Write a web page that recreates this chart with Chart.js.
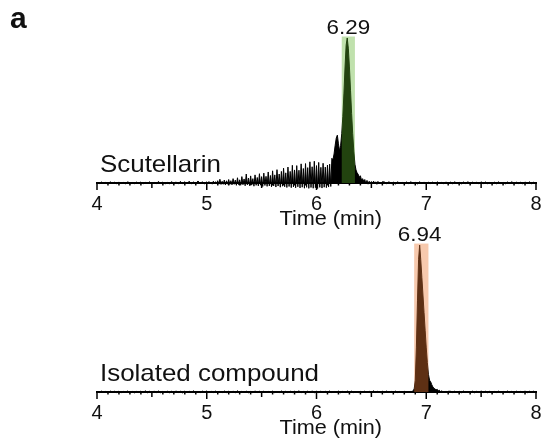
<!DOCTYPE html>
<html>
<head>
<meta charset="utf-8">
<script src="https://cdn.jsdelivr.net/npm/chart.js@4.4.0/dist/chart.umd.min.js"></script>
<style>
  html, body { margin: 0; padding: 0; background: #fff; }
  #wrap { position: relative; width: 545px; height: 440px; }
  .panel { position: absolute; left: 0; width: 545px; }
</style>
</head>
<body>
<div id="wrap">
  <div class="panel" style="top:0;height:230px"><canvas id="top"></canvas></div>
  <div class="panel" style="top:200px;height:240px"><canvas id="bottom"></canvas></div>
</div>
<script>
// retention time axis (min)
const timeMin = 4;
const timeMax = 8;
const timeTicks = [4, 5, 6, 7, 8];

// Scutellarin trace, relative intensity (peak = 100)
const scutEarly = [ // 4.00 - 4.98, every 0.02 min
  0.5,-0.4,0.7,-0.3,0.4,-0.6,0.8,-0.2,0.5,-0.5,
  0.6,-0.3,0.4,-0.7,0.9,-0.4,0.3,-0.5,0.6,-0.3,
  0.7,-0.6,0.4,-0.2,0.8,-0.5,0.5,-0.4,1.0,-0.3,
  0.6,-0.7,0.4,-0.5,0.9,-0.3,0.7,-0.6,1.1,-0.4,
  0.8,-0.5,1.2,-0.6,0.7,-0.8,1.4,-0.5,0.9,-0.7
];
const scutMain = [ // 5.00 - 6.60, every 0.01 min
  0.8,-0.6,1.0,-0.5,0.7,-0.8,1.2,-0.4,0.9,-0.7,
  1.6,-0.8,2.6,-1.0,1.2,-0.9,2.0,-1.4,1.5,-0.8,
  2.4,-1.0,1.6,-1.3,3.0,-0.9,2.0,-1.6,3.6,-1.1,
  2.2,-1.5,4.4,-1.2,2.8,-1.9,6.2,-1.3,3.4,-1.8,
  4.9,-1.4,3.0,-2.2,5.6,-1.6,3.8,-2.0,6.4,-1.5,
  4.4,-2.4,6.8,-1.7,4.6,-2.3,7.6,-2.0,5.2,-2.6,
  8.4,-2.0,5.6,-2.8,9.2,-2.1,6.2,-2.9,8.0,-2.2,
  10.2,-2.6,7.0,-3.1,11.0,-2.4,8.0,-3.2,12.2,-2.7,
  9.0,-3.3,12.0,-2.6,8.8,-3.4,13.2,-2.9,10.0,-3.6,
  13.4,-3.0,10.6,-3.7,14.6,-3.1,11.2,-3.6,15.0,-3.2,
  12.0,-3.8,14.2,-3.0,10.8,-3.5,13.6,-2.9,11.0,-3.2,
  12.4,-2.8,13.0,-2.4,17.0,16.0,20.0,26.0,31.0,33.0,
  27.0,22.0,26.0,34.0,46.0,62.0,80.0,95.0,100.0,93.0,
  80.0,64.0,48.0,34.0,22.0,13.0,9.0,7.0,6.0,4.0,
  5.0,2.0,3.0,1.2,2.4,-0.6,1.8,-0.8,1.2,-0.5,
  1.0,-0.7,1.3,-0.4,0.8,-0.9,1.1,-0.5,0.7,-0.6,
  0.9
];
const scutLate = [ // 6.62 - 8.00, every 0.02 min
  0.7,-0.5,0.9,-0.4,0.6,-0.7,0.8,-0.3,0.5,-0.6,
  0.7,-0.4,0.9,-0.5,0.4,-0.6,0.8,-0.3,0.6,-0.5,
  0.5,-0.4,0.7,-0.6,0.8,-0.3,0.4,-0.5,0.7,-0.4,
  0.6,-0.5,0.8,-0.3,0.5,-0.6,0.7,-0.4,0.9,-0.5,
  0.6,-0.3,0.5,-0.6,0.8,-0.4,0.7,-0.5,0.4,-0.3,
  0.6,-0.5,0.8,-0.4,0.5,-0.6,0.7,-0.3,0.9,-0.5,
  0.6,-0.4,0.5,-0.6,0.7,-0.3,0.8,-0.5,0.6,-0.4
];

// Isolated compound trace, relative intensity (peak = 100)
const isoEarly = [ // 4.00 - 6.78, every 0.02 min
  0.5,-0.4,0.6,-0.3,0.4,-0.5,0.7,-0.3,0.5,-0.4,
  0.6,-0.5,0.4,-0.3,0.7,-0.4,0.5,-0.6,0.4,-0.3,
  0.6,-0.4,0.8,-0.5,0.5,-0.3,0.6,-0.4,0.7,-0.5,
  0.4,-0.3,0.6,-0.5,0.5,-0.4,0.7,-0.3,0.5,-0.6,
  0.6,-0.4,0.5,-0.3,0.8,-0.5,0.4,-0.4,0.6,-0.3,
  0.7,-0.5,0.5,-0.4,0.6,-0.3,0.4,-0.5,0.7,-0.4,
  0.5,-0.3,0.6,-0.5,0.8,-0.4,0.5,-0.3,0.6,-0.5,
  0.4,-0.4,0.7,-0.3,0.5,-0.5,0.6,-0.4,0.4,-0.3,
  0.6,-0.5,0.5,-0.4,0.7,-0.3,0.5,-0.6,0.6,-0.4,
  0.5,-0.3,0.8,-0.5,0.4,-0.4,0.6,-0.3,0.7,-0.5,
  0.5,-0.4,0.6,-0.3,0.5,-0.5,0.7,-0.4,0.4,-0.3,
  0.6,-0.5,0.5,-0.4,0.7,-0.3,0.6,-0.5,0.5,-0.4,
  0.4,-0.3,0.6,-0.5,0.5,-0.4,0.8,-0.3,0.6,-0.5,
  0.5,-0.4,0.7,-0.3,0.5,-0.5,0.6,-0.4,0.5,-0.3
];
const isoMain = [ // 6.80 - 7.20, every 0.01 min
  0.5,-0.4,0.6,-0.3,0.5,-0.4,0.7,-0.3,1.0,2.0,
  8.0,30.0,62.0,90.0,100.0,90.0,78.0,66.0,54.0,42.0,
  30.0,20.0,12.0,8.0,7.0,5.0,3.5,2.5,2.0,1.5,
  1.8,0.8,1.2,-0.4,0.9,-0.5,0.6,-0.3,0.7,-0.4,
  0.5
];
const isoLate = [ // 7.22 - 8.00, every 0.02 min
  0.5,-0.4,0.6,-0.3,0.5,-0.5,0.7,-0.3,0.4,-0.4,
  0.6,-0.5,0.5,-0.3,0.7,-0.4,0.5,-0.5,0.6,-0.3,
  0.4,-0.4,0.6,-0.5,0.5,-0.3,0.7,-0.4,0.5,-0.5,
  0.6,-0.3,0.4,-0.4,0.7,-0.5,0.5,-0.3,0.6,-0.4
];

// peak labels and highlighted windows
const sampleNames = ['Scutellarin', 'Isolated compound'];
const peakTimes = [6.29, 6.94];
const peakWindows = [[6.23, 6.35], [6.89, 7.02]];

const FONT = 'Liberation Sans, Arial, Helvetica, sans-serif';

function buildTrace(segments) {
  const pts = [];
  for (const seg of segments) {
    seg.values.forEach(function (v, i) {
      pts.push({ x: +(seg.start + i * seg.step).toFixed(2), y: v });
    });
  }
  return pts;
}

function stretchText(ctx, text, x, y, font, sx, align) {
  ctx.save();
  ctx.font = font;
  ctx.fillStyle = '#111';
  ctx.textAlign = align;
  ctx.textBaseline = 'alphabetic';
  ctx.translate(x, y);
  ctx.scale(sx, 1);
  ctx.fillText(text, 0, 0);
  ctx.restore();
}

function makePanel(id, trace, idx, yMax, padTop, axisHeight, bandColor, showLetter) {
  var ctx = document.getElementById(id).getContext('2d');

  var decor = {
    id: 'decor_' + id,
    afterDatasetsDraw: function (chart) {
      const c = chart.ctx, xs = chart.scales.x, ys = chart.scales.y;
      // shaded retention window over the peak
      const x0 = xs.getPixelForValue(peakWindows[idx][0]);
      const x1 = xs.getPixelForValue(peakWindows[idx][1]);
      const yTop = ys.getPixelForValue(101);
      const yBot = ys.getPixelForValue(0);
      c.save();
      c.fillStyle = bandColor;
      c.fillRect(x0, yTop, x1 - x0, yBot - yTop);
      c.restore();
    },
    afterDraw: function (chart) {
      const c = chart.ctx, xs = chart.scales.x, ys = chart.scales.y;
      const base = ys.getPixelForValue(0);
      // small ticks every 0.1 min, bigger at .5 and whole minutes
      c.save();
      c.strokeStyle = '#000';
      c.lineWidth = 1.5;
      for (let i = timeMin * 10; i <= timeMax * 10; i++) {
        const px = xs.getPixelForValue(i / 10);
        let len = 2.5;
        if (i % 10 === 0) len = 7;
        else if (i % 5 === 0) len = 5;
        c.beginPath();
        c.moveTo(px, base);
        c.lineTo(px, base + len);
        c.stroke();
      }
      c.restore();

      stretchText(c, 'Time (min)', xs.getPixelForValue(6.13), base + 42, '21px ' + FONT, 1.03, 'center');
      stretchText(c, sampleNames[idx], chart.chartArea.left + 3, base - 11, '24px ' + FONT, 1.08, 'left');
      stretchText(c, peakTimes[idx].toFixed(2), xs.getPixelForValue(peakTimes[idx]), ys.getPixelForValue(101) - 3, '20px ' + FONT, 1.12, 'center');
      if (showLetter) {
        stretchText(c, 'a', 10, 28, 'bold 30px ' + FONT, 1, 'left');
      }
    }
  };

  return new Chart(ctx, {
    type: 'line',
    data: {
      datasets: [{
        data: trace,
        borderColor: '#000',
        backgroundColor: '#000',
        borderWidth: 1,
        pointRadius: 0,
        fill: 'origin',
        tension: 0,
        clip: false
      }]
    },
    options: {
      responsive: true,
      maintainAspectRatio: false,
      animation: false,
      layout: { padding: { left: 97, right: 9, top: padTop, bottom: 0 } },
      plugins: { legend: { display: false }, tooltip: { enabled: false } },
      scales: {
        x: {
          type: 'linear',
          min: timeMin,
          max: timeMax,
          afterFit: function (scale) {
            scale.height = axisHeight;
            scale.paddingLeft = 0;
            scale.paddingRight = 0;
          },
          afterBuildTicks: function (scale) {
            scale.ticks = timeTicks.map(function (v) { return { value: v }; });
          },
          grid: { display: false, drawTicks: false },
          border: { display: true, color: '#000', width: 2 },
          ticks: {
            padding: 9,
            color: '#111',
            font: { family: FONT, size: 20 },
            maxRotation: 0
          }
        },
        y: {
          display: false,
          min: 0,
          max: yMax
        }
      }
    },
    plugins: [decor]
  });
}

makePanel('top', buildTrace([
  { start: 4.00, step: 0.02, values: scutEarly },
  { start: 5.00, step: 0.01, values: scutMain },
  { start: 6.62, step: 0.02, values: scutLate }
]), 0, 105.5, 30, 47, 'rgba(90,175,40,0.38)', true);

makePanel('bottom', buildTrace([
  { start: 4.00, step: 0.02, values: isoEarly },
  { start: 6.80, step: 0.01, values: isoMain },
  { start: 7.22, step: 0.02, values: isoLate }
]), 1, 104.8, 38, 48, 'rgba(235,120,50,0.40)', false);
</script>
</body>
</html>
